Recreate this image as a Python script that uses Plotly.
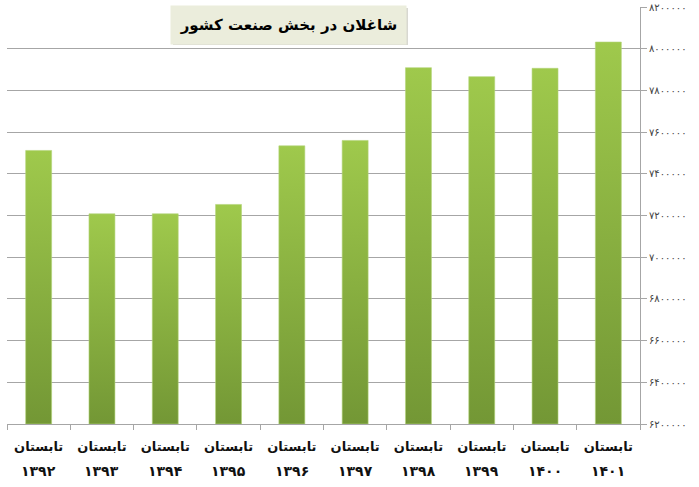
import plotly.graph_objects as go

# employed in the industry sector (summer of each year)
years = ['1392', '1393', '1394', '1395', '1396', '1397', '1398', '1399', '1400', '1401']
employed = [7512000, 7208000, 7208000, 7253000, 7534000, 7560000, 7909000, 7866000, 7906000, 8032000]
y_ticks = [6200000, 6400000, 6600000, 6800000, 7000000, 7200000, 7400000, 7600000, 7800000, 8000000, 8200000]

season = 'تابستان'
title = 'شاغلان در بخش صنعت کشور'

fa_digits = str.maketrans('0123456789', '۰۱۲۳۴۵۶۷۸۹')


def fa(n):
    return str(n).translate(fa_digits)


y_min, y_max = 6200000, 8200000
half_w = 0.205

fig = go.Figure()

for i, val in enumerate(employed):
    fig.add_trace(go.Scatter(
        x=[i - half_w, i + half_w, i + half_w, i - half_w, i - half_w],
        y=[y_min, y_min, val, val, y_min],
        fill='toself',
        mode='lines',
        line={'width': 0.6, 'color': '#b4d57a'},
        fillgradient={'type': 'vertical', 'colorscale': [[0, '#739735'], [1, '#9fc94c']]},
        hoverinfo='skip',
        showlegend=False,
    ))

fig.update_layout(
    width=699,
    height=487,
    margin={'l': 7, 'r': 59, 't': 7, 'b': 63},
    plot_bgcolor='white',
    paper_bgcolor='white',
    font={'family': 'DejaVu Sans', 'color': '#111111'},
    xaxis={
        'range': [-0.5, 9.5],
        'tickmode': 'array',
        'tickvals': list(range(len(years))),
        'ticktext': [season for _ in years],
        'tickfont': {'size': 13, 'family': 'DejaVu Sans', 'weight': 'bold'},
        'ticks': '',
        'ticklabelstandoff': 10,
        'showgrid': False,
        'showline': True,
        'linecolor': '#a6a6a6',
        'zeroline': False,
        'automargin': False,
        'minor': {'tick0': 0.5, 'dtick': 1, 'ticks': 'outside', 'ticklen': 5, 'tickcolor': '#a6a6a6', 'showgrid': False},
    },
    yaxis={
        'side': 'right',
        'range': [y_min, y_max],
        'tickmode': 'array',
        'tickvals': y_ticks,
        'ticktext': [fa(v) for v in y_ticks],
        'tickfont': {'size': 10, 'color': '#444444'},
        'ticks': 'outside',
        'ticklen': 6,
        'tickcolor': '#a6a6a6',
        'showgrid': True,
        'gridcolor': '#a6a6a6',
        'gridwidth': 1,
        'showline': True,
        'linecolor': '#a6a6a6',
        'zeroline': False,
        'automargin': False,
    },
)

# year row under the season labels
for i, yr in enumerate(years):
    fig.add_annotation(
        x=i, y=0, xref='x', yref='paper',
        yshift=-47, yanchor='middle',
        text='<b>' + fa(yr) + '</b>',
        showarrow=False,
        font={'size': 14, 'family': 'DejaVu Sans', 'color': '#111111'},
    )

# title box (with a soft shadow)
fig.add_shape(
    type='rect', xref='paper', yref='paper',
    x0=(173 - 7) / 633, x1=(408 - 7) / 633,
    y0=(424 - 45) / 417, y1=(424 - 8) / 417,
    fillcolor='rgba(200,200,190,0.7)', line={'width': 0},
)
fig.add_annotation(
    x=(170 - 7) / 633, y=(424 - 5) / 417, xref='paper', yref='paper',
    xanchor='left', yanchor='top',
    text='<b>' + title + '</b>',
    showarrow=False,
    width=233, height=36,
    bgcolor='#ebeddc',
    font={'size': 15, 'family': 'DejaVu Sans', 'color': '#000000'},
)

fig.write_html("out.html", config={'displayModeBar': False},
               post_script="document.body.style.margin='0';")
